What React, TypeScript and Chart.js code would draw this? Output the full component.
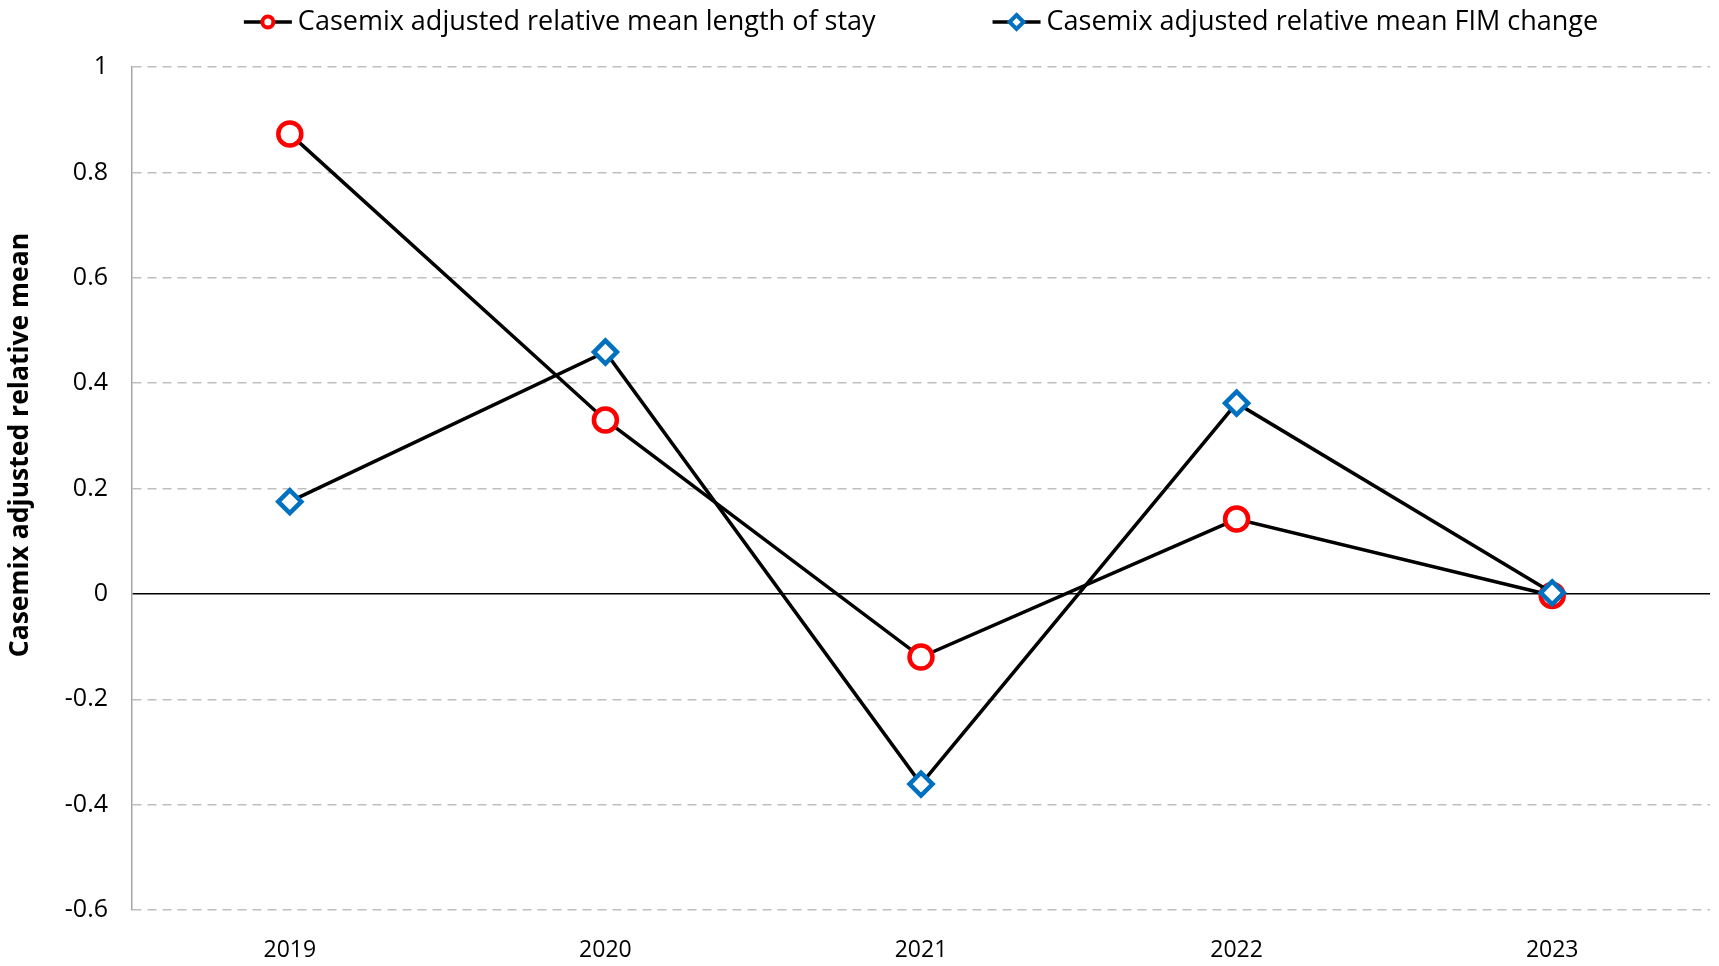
import React, { useEffect, useRef } from "react";
import { Chart, registerables } from "chart.js";

Chart.register(...registerables);

const years = ["2019", "2020", "2021", "2022", "2023"];
const losValues = [0.873, 0.33, -0.12, 0.142, -0.003];
const fimValues = [0.175, 0.459, -0.361, 0.362, 0.002];
const seriesNames = [
  "Casemix adjusted relative mean length of stay",
  "Casemix adjusted relative mean FIM change",
];
const yTitle = "Casemix adjusted relative mean";

const FONT = "'Open Sans', Lato, sans-serif";
const RED = "#FF0000";
const BLUE = "#0070C0";

const decorPlugin = {
  id: "decor",
  afterDraw(chart: any) {
    const { ctx, chartArea } = chart;
    const fontSize = 27;
    ctx.save();
    ctx.font = `${fontSize}px ${FONT}`;
    const lineLen = 48;
    const textGap = 6;
    const itemGap = 117;
    const widths = seriesNames.map((n) => lineLen + textGap + ctx.measureText(n).width);
    const total = widths.reduce((a, b) => a + b, 0) + itemGap * (widths.length - 1);
    let x = (chartArea.left + chartArea.right) / 2 - total / 2;
    const y = 22;
    seriesNames.forEach((name, i) => {
      ctx.strokeStyle = "#000";
      ctx.lineWidth = 3.5;
      ctx.beginPath();
      ctx.moveTo(x, y);
      ctx.lineTo(x + lineLen, y);
      ctx.stroke();
      const cx = x + lineLen / 2;
      ctx.lineWidth = 4;
      ctx.fillStyle = "#fff";
      if (i === 0) {
        ctx.strokeStyle = RED;
        ctx.beginPath();
        ctx.arc(cx, y, 5.5, 0, Math.PI * 2);
        ctx.fill();
        ctx.stroke();
      } else {
        ctx.strokeStyle = BLUE;
        const r = 7;
        ctx.beginPath();
        ctx.moveTo(cx, y - r);
        ctx.lineTo(cx + r, y);
        ctx.lineTo(cx, y + r);
        ctx.lineTo(cx - r, y);
        ctx.closePath();
        ctx.fill();
        ctx.stroke();
      }
      ctx.fillStyle = "#000";
      ctx.textBaseline = "middle";
      ctx.textAlign = "left";
      ctx.fillText(name, x + lineLen + textGap, y);
      x += widths[i] + itemGap;
    });
    // y axis title
    ctx.translate(20, 445);
    ctx.rotate(-Math.PI / 2);
    ctx.font = `bold 26.5px ${FONT}`;
    ctx.textAlign = "center";
    ctx.textBaseline = "middle";
    ctx.fillStyle = "#000";
    ctx.fillText(yTitle, 0, 0);
    ctx.restore();
  },
};

export default function App() {
  const ref = useRef<HTMLCanvasElement>(null);
  useEffect(() => {
    document.body.style.margin = "0";
    const chart = new Chart(ref.current!, {
      type: "line",
      data: {
        labels: years,
        datasets: [
          {
            label: seriesNames[0],
            data: losValues,
            borderColor: "#000",
            borderWidth: 3.5,
            pointStyle: "circle",
            pointRadius: 11.5,
            pointBorderWidth: 4.5,
            pointBorderColor: RED,
            pointBackgroundColor: "#fff",
            order: 1,
          },
          {
            label: seriesNames[1],
            data: fimValues,
            borderColor: "#000",
            borderWidth: 3.5,
            pointStyle: "rectRot",
            pointRadius: 11.5,
            pointBorderWidth: 4.5,
            pointBorderColor: BLUE,
            pointBackgroundColor: "#fff",
            order: 0,
          },
        ],
      },
      options: {
        animation: false,
        responsive: false,
        maintainAspectRatio: false,
        layout: { autoPadding: false, padding: { top: 67, right: 9, left: 0, bottom: 0 } },
        plugins: {
          legend: { display: false },
          tooltip: { enabled: false },
        },
        scales: {
          x: {
            offset: true,
            grid: { display: false },
            border: { display: false },
            afterFit: (s: any) => {
              s.height = 56;
              s.paddingLeft = 0;
              s.paddingRight = 0;
            },
            ticks: {
              color: "#000",
              font: { family: FONT, size: 23 },
              padding: 19,
            },
          },
          y: {
            min: -0.6,
            max: 1,
            afterFit: (s: any) => {
              s.width = 132;
            },
            ticks: {
              stepSize: 0.2,
              color: "#000",
              font: { family: FONT, size: 25 },
              padding: 24,
              callback: (v: any) => {
                const n = Math.round(Number(v) * 10) / 10;
                return n === 0 ? "0" : String(n);
              },
            },
            grid: {
              drawTicks: false,
              color: (c: any) => (c.tick && Math.abs(c.tick.value) < 1e-9 ? "#000" : "#bfbfbf"),
              lineWidth: 1.5,
            },
            border: {
              display: true,
              color: "#a6a6a6",
              width: 1.5,
              dash: (c: any) => (c.tick && Math.abs(c.tick.value) > 1e-9 ? [9, 6] : []),
            },
          },
        },
      },
      plugins: [decorPlugin],
    });
    return () => chart.destroy();
  }, []);
  return (
    <div style={{ width: 1719, height: 966 }}>
      <canvas ref={ref} width={1719} height={966} style={{ display: "block" }} />
    </div>
  );
}
